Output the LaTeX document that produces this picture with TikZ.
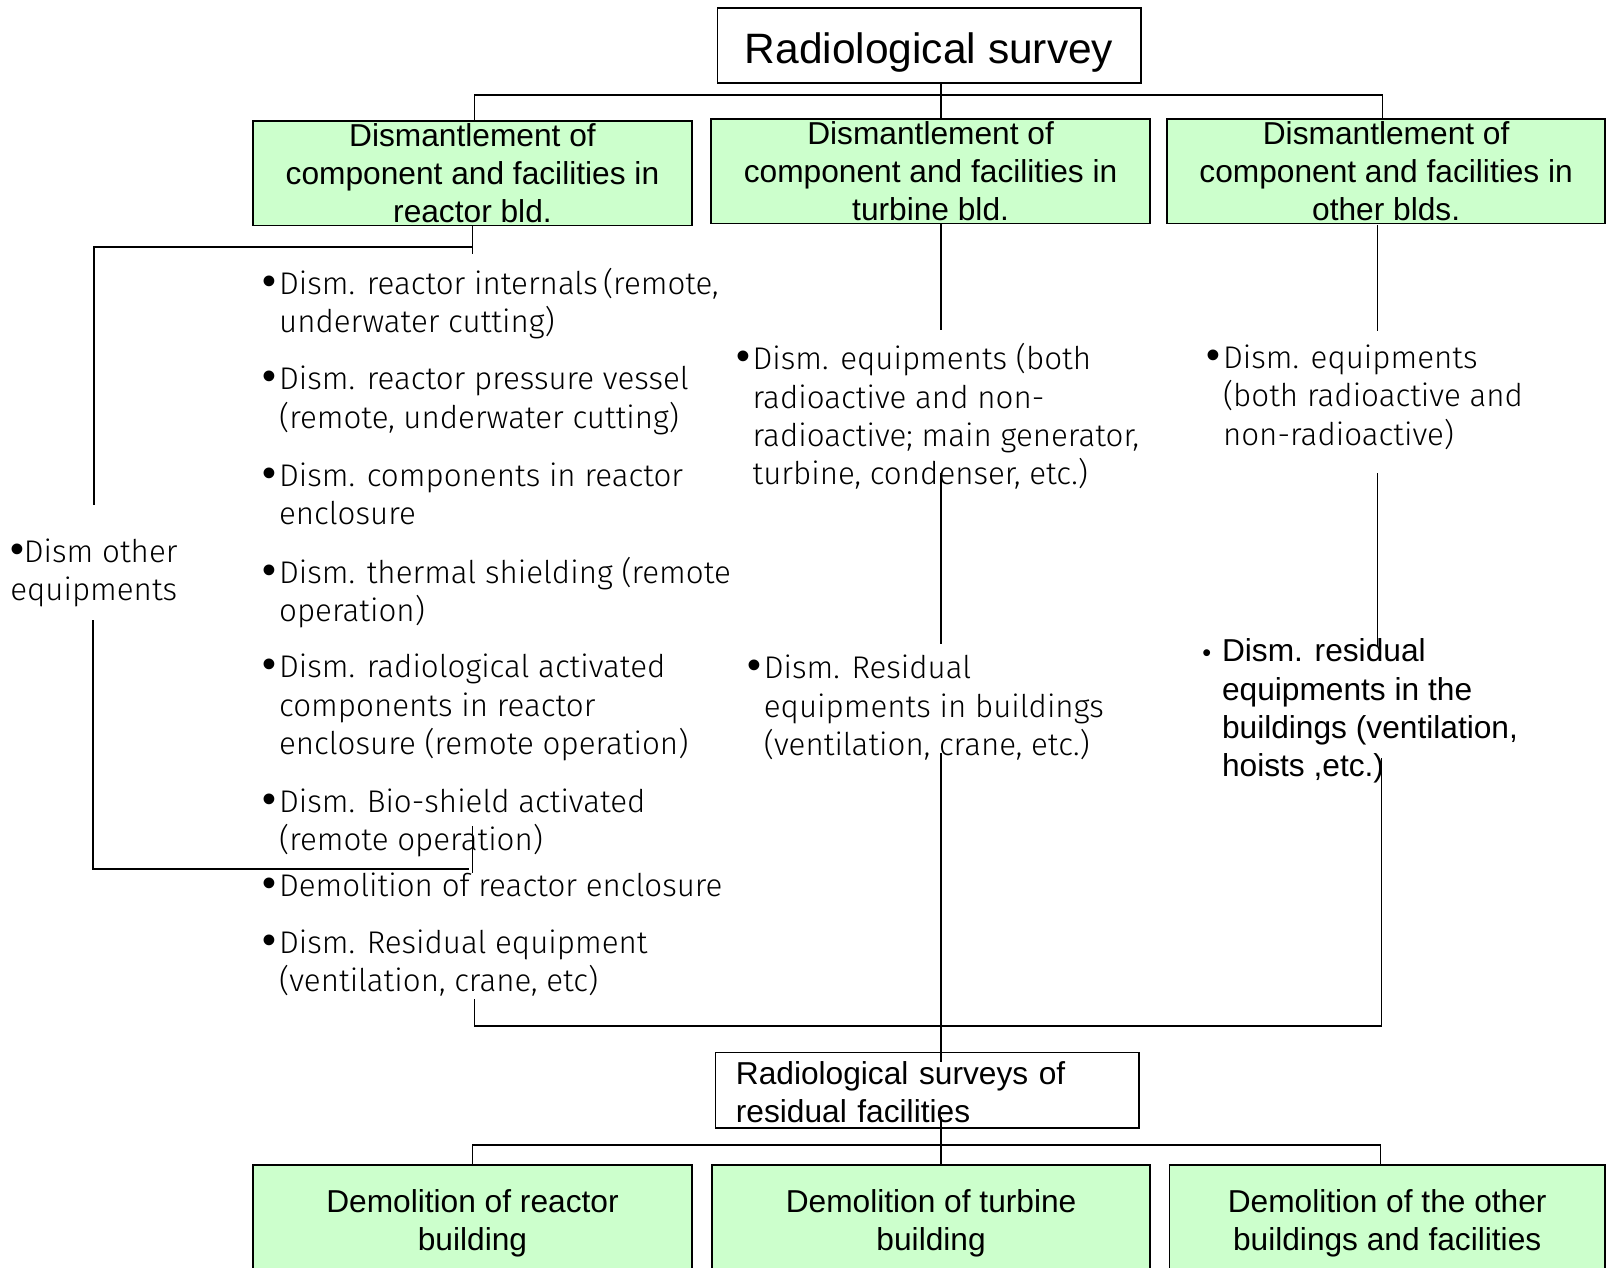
\documentclass[tikz,border=0pt]{standalone}
\usepackage{fontspec}
\setmainfont{Liberation Sans}
\newfontfamily\thinfont{Fira Sans}[UprightFont={* Light}]
\definecolor{boxGreen}{HTML}{CCFFCC}
\newcommand{\titlefont}{\fontsize{23.6}{28}\selectfont}
\newcommand{\boxfont}{\fontsize{17.6}{21.3}\selectfont}
\newcommand{\listfont}{\thinfont\fontsize{17.4}{21.3}\selectfont}
\newcommand{\dotmark}{{\normalfont\fontsize{22}{21.3}\selectfont\textbullet}}
\newcommand{\bul}{\llap{\dotmark\hspace{1.5pt}}}
\newcommand{\smallbul}{\llap{{\fontsize{14}{21.3}\selectfont\textbullet}\hspace{6pt}}}

\tikzset{
    GREEN_BOX/.style={draw=black, fill=boxGreen, line width=1pt, shape=rectangle,
        inner sep=0mm, align=center, font=\boxfont, minimum width=8.56cm},
    WHITE_BOX/.style={draw=black, fill=white, line width=1pt, shape=rectangle,
        inner sep=0mm, minimum width=8.26cm},
    ITEM/.style={anchor=north west, align=left, inner sep=0mm, font=\listfont,
        execute at begin node=\strut},
    ITEM_DARK/.style={ITEM, font=\boxfont},
    EDGE/.style={draw=black, line width=1pt}
}

\begin{document}
\begin{tikzpicture}[x=0.02cm, y=-0.02cm]
    \clip (0,0) rectangle (1568,1237);
    % boxes
    \node [WHITE_BOX, minimum height=1.46cm, font=\titlefont, text height=19.9pt, text depth=0pt] (survey) at (906.5,44.5) {Radiological survey};
    \node [GREEN_BOX, minimum height=2.04cm] (rdism) at (461,169) {Dismantlement of\\component and facilities in\\reactor bld.};
    \node [GREEN_BOX, minimum height=2.04cm] (tdism) at (908,167) {Dismantlement of\\component and facilities in\\turbine bld.};
    \node [GREEN_BOX, minimum height=2.04cm, minimum width=8.54cm] (odism) at (1352.5,167) {Dismantlement of\\component and facilities in\\other blds.};
    \node [WHITE_BOX, minimum height=1.48cm, align=left, font=\boxfont, text width=7.46cm] (resurvey) at (904.5,1064) {\rule{0pt}{14.5pt}Radiological surveys of\\residual facilities};
    \node [GREEN_BOX, minimum height=2.26cm] (rdemo) at (461,1193.5) {Demolition of reactor\\building};
    \node [GREEN_BOX, minimum height=2.26cm, minimum width=8.54cm] (tdemo) at (908.5,1193.5) {Demolition of turbine\\building};
    \node [GREEN_BOX, minimum height=2.26cm, minimum width=8.5cm] (odemo) at (1353.5,1193.5) {Demolition of the other\\buildings and facilities};

    % reactor bld. items
    \node [ITEM, anchor=north, align=center] (othereq) at (91.5,525) {\dotmark Dism other\\equipments};
    \node [ITEM] (r1) at (272,261) {\bul Dism. reactor internals\,(remote,\\underwater cutting)};
    \node [ITEM] (r2) at (272,357) {\bul Dism. reactor pressure vessel\\(remote, underwater cutting)};
    \node [ITEM] (r3) at (272,451) {\bul Dism. components in reactor\\enclosure};
    \node [ITEM] (r4) at (272,543) {\bul Dism. thermal shielding (remote\\operation)};
    \node [ITEM] (r5) at (272,638) {\bul Dism. radiological activated\\components in reactor\\enclosure (remote operation)};
    \node [ITEM] (r6) at (272,769) {\bul Dism. Bio-shield activated\\(remote operation)};
    \node [ITEM] (r7) at (272,848) {\bul Demolition of reactor enclosure};
    \node [ITEM] (r8) at (272,907) {\bul Dism. Residual equipment\\(ventilation, crane, etc)};
    % turbine bld. items
    \node [ITEM] (t1) at (734,335) {\bul Dism. equipments (both\\radioactive and non-\\radioactive; main generator,\\turbine, condenser, etc.)};
    \node [ITEM] (t2) at (745,639) {\bul Dism. Residual\\equipments in buildings\\(ventilation, crane, etc.)};
    % other blds. items
    \node [ITEM] (o1) at (1193,336) {\bul Dism. equipments\\(both radioactive and\\non-radioactive)};
    \node [ITEM_DARK] (o2) at (1192,623) {\smallbul Dism. residual\\equipments in the\\buildings (ventilation,\\hoists ,etc.)};

    % junction points
    \coordinate (xT) at (918,0);
    \coordinate (bus1) at (1349,93);
    \coordinate (xR) at (463,0);
    \coordinate (lbus) at (461,241);
    \coordinate (ltop) at (92,493);
    \coordinate (lbot) at (91,605);
    \coordinate (lcorner) at (458,848);
    \coordinate (rtickA) at (461,806);
    \coordinate (rtickB) at (461,852);
    \coordinate (tA) at (918,322);
    \coordinate (tB) at (918,462);
    \coordinate (tC) at (918,628);
    \coordinate (tD) at (918,735);
    \coordinate (tE) at (918,1036);
    \coordinate (tF) at (918,1090);
    \coordinate (oA) at (1344,220);
    \coordinate (oB) at (1344,323);
    \coordinate (oC) at (1344,462);
    \coordinate (oD) at (1344,630);
    \coordinate (oE) at (1348,740);
    \coordinate (bus2) at (1348,1001);
    \coordinate (rbot) at (463,975);
    \coordinate (bus3) at (1347,1117);

    % connectors
    \draw[EDGE] (survey.south -| xT) -- (tdism.north -| xT);
    \draw[EDGE] (rdism.north -| xR) |- (bus1) -- (odism.north -| bus1);
    \draw[EDGE] (rdism.south) -- ++(0,27);
    \draw[EDGE] (lbus) -| (ltop);
    \draw[EDGE] (lbot) |- (lcorner);
    \draw[EDGE] (rtickA) -- (rtickB);
    \draw[EDGE] (tdism.south -| xT) -- (tA);
    \draw[EDGE] (tB) -- (tC);
    \draw[EDGE] (tD) -- (tE);
    \draw[EDGE] (oA) -- (oB);
    \draw[EDGE] (oC) -- (oD);
    \draw[EDGE] (oE) -- (bus2);
    \draw[EDGE] (rbot) |- (bus2);
    \draw[EDGE] (tF) -- (tdemo.north -| tF);
    \draw[EDGE] (rdemo.north) |- (bus3) -- (odemo.north -| bus3);
\end{tikzpicture}
\end{document}
